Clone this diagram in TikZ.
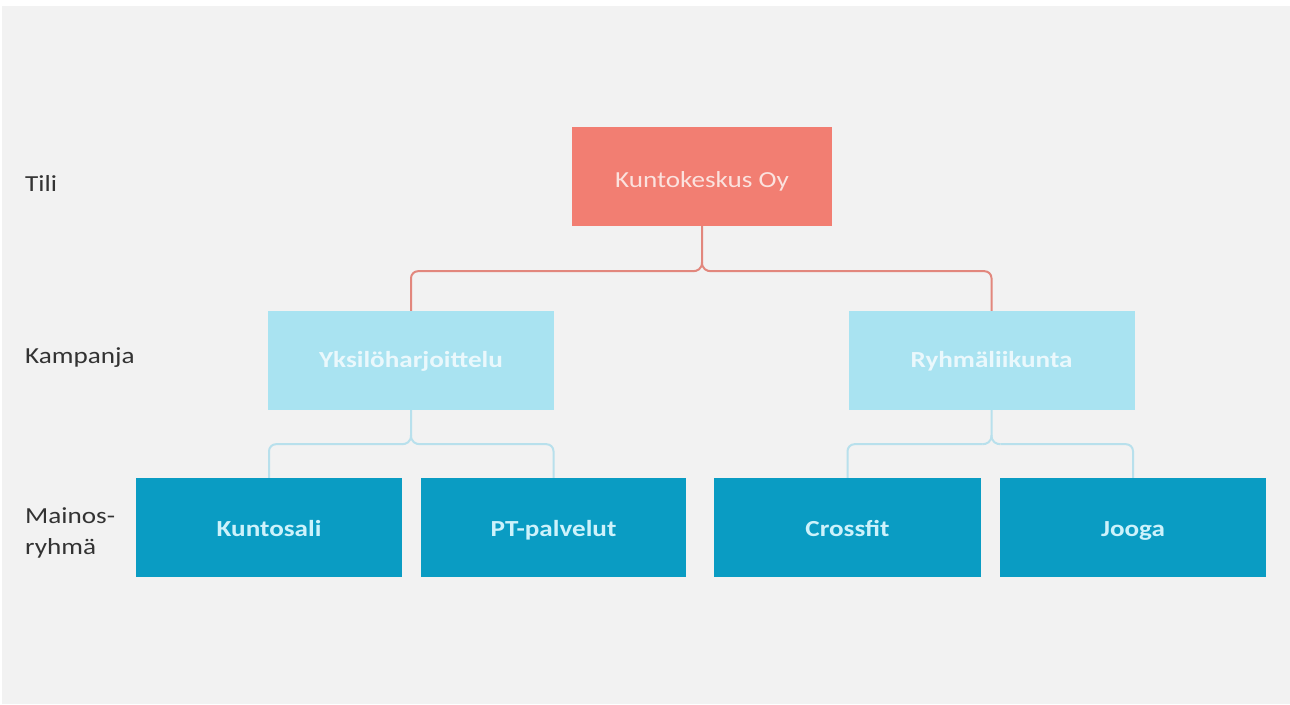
\documentclass[tikz,border=0pt]{standalone}
\usepackage{fontspec}
\setmainfont{Carlito}[FakeStretch=1.18]
\usetikzlibrary{calc}
\definecolor{bg}{HTML}{F2F2F2}
\definecolor{redbox}{HTML}{F27E72}
\definecolor{redtxt}{HTML}{FBE2DE}
\definecolor{redline}{HTML}{E2877D}
\definecolor{lightbox}{HTML}{A9E3F1}
\definecolor{lighttxt}{HTML}{EAF8FC}
\definecolor{blueline}{HTML}{B8E0EC}
\definecolor{darkbox}{HTML}{0A9CC3}
\definecolor{darktxt}{HTML}{CDF2FB}
\definecolor{labeltxt}{HTML}{333333}
\tikzset{
  box/.style={draw=none, inner sep=0pt, text height=19pt, text depth=2pt, font=\fontsize{23}{27}\selectfont},
  accountbox/.style={box, fill=redbox, text=redtxt, minimum width=260pt, minimum height=99pt, text height=22pt, text depth=-1pt},
  campbox/.style={box, fill=lightbox, text=lighttxt, minimum width=286pt, minimum height=99pt, text height=17pt, text depth=4pt, font=\fontsize{23}{27}\selectfont\bfseries},
  groupbox/.style={box, fill=darkbox, text=darktxt, minimum height=99pt, font=\fontsize{23}{27}\selectfont\bfseries},
  levellabel/.style={anchor=west, inner sep=0pt, text=labeltxt, font=\fontsize{23}{31}\selectfont, align=left},
  redconn/.style={draw=redline, line width=2pt},
  blueconn/.style={draw=blueline, line width=2pt},
}
\begin{document}
\begin{tikzpicture}[x=1pt, y=-1pt]
  \useasboundingbox (0,0) rectangle (1290,704);
  \fill[white] (0,0) rectangle (1290,704);
  \fill[bg] (2,6) rectangle (1290,704);

  % level labels
  \node[levellabel] (ltili) at (25,184) {Tili};
  \node[levellabel] (lkamp) at (25,358) {Kampanja};
  \node[levellabel] (lmain) at (25,533) {Mainos-\\ryhmä};

  % nodes
  \node[accountbox] (top) at (702,176.5) {Kuntokeskus Oy};
  \node[campbox] (yks) at (411,360.5) {Yksilöharjoittelu};
  \node[campbox] (ryh) at (991.5,360.5) {Ryhmäliikunta};
  \node[groupbox, minimum width=266pt] (kun) at (269,527.5) {Kuntosali};
  \node[groupbox, minimum width=265pt] (pt) at (553.5,527.5) {PT-palvelut};
  \node[groupbox, minimum width=267pt] (cro) at (847.5,527.5) {Crossfit};
  \node[groupbox, minimum width=266pt] (joo) at (1133,527.5) {Jooga};

  % red brace: account -> campaigns
  \coordinate (tj) at ($(top.south)+(0,36)$);
  \coordinate (tl) at ($(tj)+(-9,9)$);
  \coordinate (tr) at ($(tj)+(9,9)$);
  \draw[redconn] (top.south) -- (tj) .. controls +(0,7) and +(4,0) .. (tl);
  \draw[redconn] (tj) .. controls +(0,7) and +(-4,0) .. (tr);
  \draw[redconn, rounded corners=7pt] (tl) -| (yks.north);
  \draw[redconn, rounded corners=7pt] (tr) -| (ryh.north);

  % blue braces: campaigns -> ad groups
  \coordinate (yj) at ($(yks.south)+(0,25)$);
  \coordinate (yl) at ($(yj)+(-9,9)$);
  \coordinate (yr) at ($(yj)+(9,9)$);
  \draw[blueconn] (yks.south) -- (yj) .. controls +(0,7) and +(4,0) .. (yl);
  \draw[blueconn] (yj) .. controls +(0,7) and +(-4,0) .. (yr);
  \draw[blueconn, rounded corners=7pt] (yl) -| (kun.north);
  \draw[blueconn, rounded corners=7pt] (yr) -| (pt.north);

  \coordinate (rj) at ($(ryh.south)+(0,25)$);
  \coordinate (rl) at ($(rj)+(-9,9)$);
  \coordinate (rr) at ($(rj)+(9,9)$);
  \draw[blueconn] (ryh.south) -- (rj) .. controls +(0,7) and +(4,0) .. (rl);
  \draw[blueconn] (rj) .. controls +(0,7) and +(-4,0) .. (rr);
  \draw[blueconn, rounded corners=7pt] (rl) -| (cro.north);
  \draw[blueconn, rounded corners=7pt] (rr) -| (joo.north);
\end{tikzpicture}
\end{document}
